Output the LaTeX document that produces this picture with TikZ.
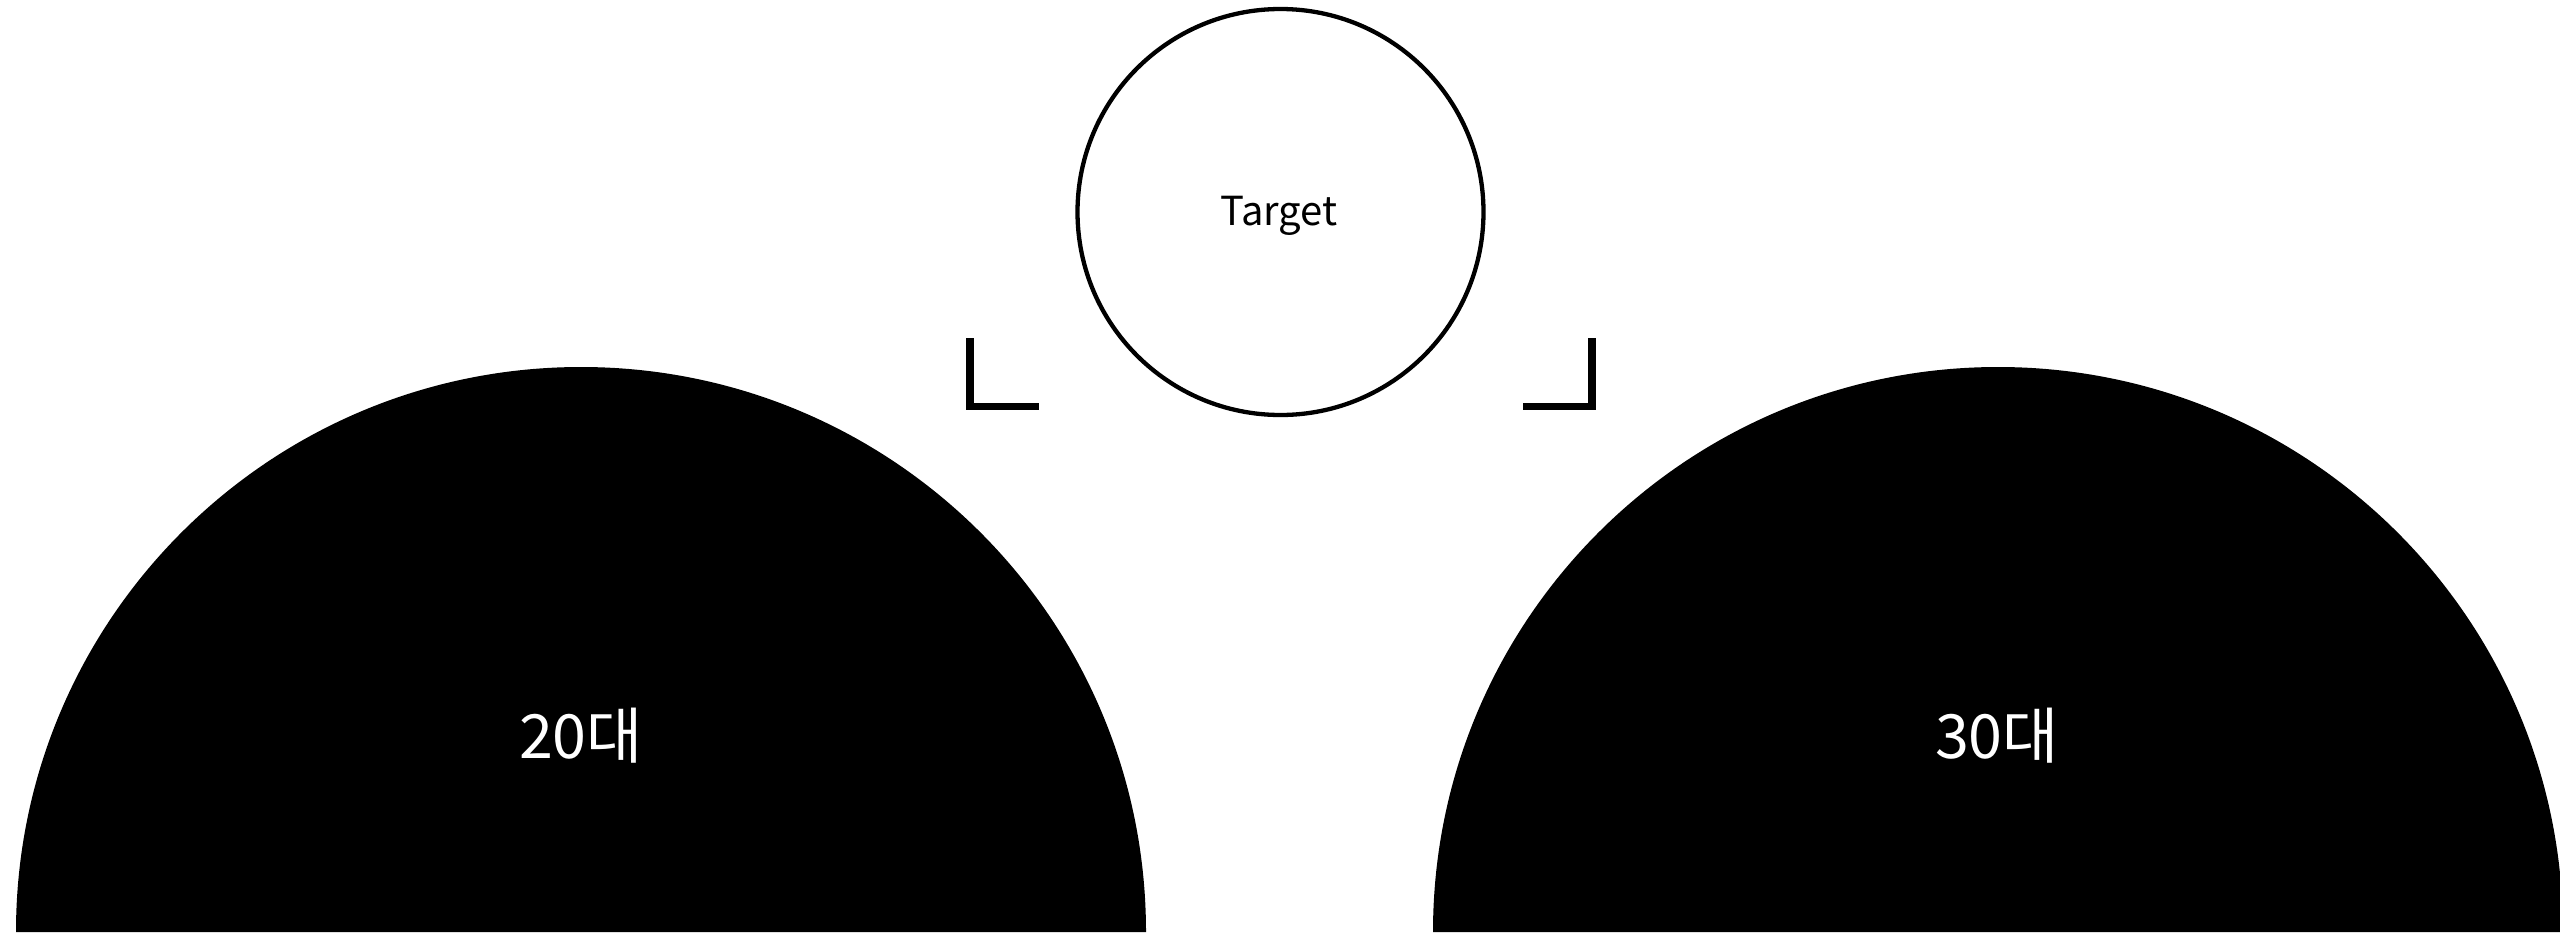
\documentclass[tikz,border=0pt]{standalone}
\usepackage{fontspec}
\setmainfont{Noto Sans CJK KR}
\begin{document}
\begin{tikzpicture}[x=1pt,y=-1pt,
  ring/.style={circle,draw=black,line width=4.3pt,minimum size=406pt,inner sep=0pt},
  bracketline/.style={draw=black,line width=7.7pt,line join=miter},
  halfdisk/.style={fill=black},
  lbl/.style={anchor=base,inner sep=0pt},
  darklbl/.style={lbl,text=white,font=\fontsize{61}{72}\selectfont},
  lightlbl/.style={lbl,text=black,font=\fontsize{40}{48}\selectfont}]
\useasboundingbox (0,0) rectangle (2560,932);
% half disks
\path[halfdisk] (16,932) arc[start angle=180,end angle=360,radius=565] -- cycle;
\path[halfdisk] (1433,932) arc[start angle=180,end angle=360,radius=565] -- cycle;
% target circle
\node[ring] (target) at (1280.5,212) {};
\node[lightlbl] (targetlabel) at (1279,225) {Target};
% brackets
\coordinate (lb1) at (970,338);
\coordinate (lb2) at (970,406.5);
\coordinate (lb3) at (1039,406.5);
\coordinate (rb1) at (1523,406.5);
\coordinate (rb2) at (1592,406.5);
\coordinate (rb3) at (1592,338);
\path[bracketline] (lb1) -- (lb2) -- (lb3);
\path[bracketline] (rb1) -- (rb2) -- (rb3);
% labels
\node[darklbl] (g20) at (581,758) {20대};
\node[darklbl] (g30) at (1997,758) {30대};
\end{tikzpicture}
\end{document}
